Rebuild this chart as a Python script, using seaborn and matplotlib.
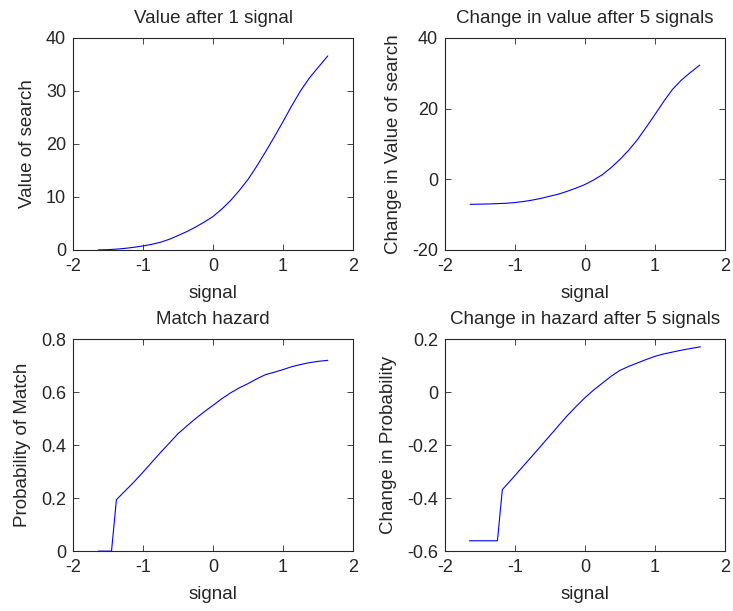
import numpy as np
import pandas as pd
import matplotlib
matplotlib.use("Agg")
import matplotlib.pyplot as plt
import seaborn as sns

# signal grid and curves
sig_value = [-1.64, -1.5, -1.375, -1.25, -1.125, -1.0, -0.875, -0.75, -0.625, -0.5, -0.375, -0.25, -0.125,
             0.0, 0.125, 0.25, 0.375, 0.5, 0.625, 0.75, 0.875, 1.0, 1.125, 1.25, 1.375, 1.5, 1.64]
value_1 = [0.0, 0.05, 0.15, 0.3, 0.5, 0.75, 1.05, 1.45, 2.0, 2.7, 3.45, 4.3, 5.25,
           6.3, 7.7, 9.3, 11.2, 13.3, 15.8, 18.5, 21.3, 24.2, 27.2, 30.0, 32.4, 34.4, 36.6]
change_value_5 = [-7.1, -7.05, -7.0, -6.9, -6.8, -6.6, -6.3, -5.9, -5.4, -4.8, -4.2, -3.4, -2.5,
                  -1.5, -0.2, 1.3, 3.3, 5.6, 8.2, 11.2, 14.7, 18.3, 22.0, 25.4, 28.0, 30.1, 32.3]

sig_hazard = [-1.64, -1.45, -1.38, -1.125, -1.0, -0.75, -0.5, -0.375, -0.25, -0.125, 0.0, 0.125, 0.25,
              0.375, 0.5, 0.625, 0.75, 0.875, 1.0, 1.125, 1.25, 1.375, 1.5, 1.64]
match_hazard = [0.0, 0.0, 0.194, 0.262, 0.298, 0.372, 0.443, 0.472, 0.50, 0.526, 0.55, 0.575, 0.597,
                0.616, 0.632, 0.65, 0.666, 0.675, 0.685, 0.696, 0.704, 0.711, 0.716, 0.72]

sig_change = [-1.65, -1.25, -1.18, -1.0, -0.875, -0.75, -0.625, -0.5, -0.375, -0.25, -0.125, 0.0, 0.125,
              0.25, 0.375, 0.5, 0.625, 0.75, 0.875, 1.0, 1.125, 1.25, 1.375, 1.5, 1.65]
change_hazard_5 = [-0.561, -0.561, -0.368, -0.315, -0.277, -0.24, -0.202, -0.164, -0.126, -0.088, -0.054,
                   -0.021, 0.008, 0.034, 0.06, 0.082, 0.097, 0.11, 0.123, 0.135, 0.144, 0.151, 0.158,
                   0.164, 0.171]

sns.set_style("ticks")
plt.rcParams['font.family'] = ['Liberation Sans', 'DejaVu Sans']

fig = plt.figure(figsize=(7.33, 6.11), dpi=100)
left = [0.0996, 0.607]
bottom = [0.591, 0.098]
w, h = 0.382, 0.347

panels = [
    (sig_value, value_1, "Value after 1 signal", "Value of search", (0, 40), [0, 10, 20, 30, 40], left[0], bottom[0]),
    (sig_value, change_value_5, "Change in value after 5 signals", "Change in Value of search", (-20, 40), [-20, 0, 20, 40], left[1], bottom[0]),
    (sig_hazard, match_hazard, "Match hazard", "Probability of Match", (0, 0.8), [0, 0.2, 0.4, 0.6, 0.8], left[0], bottom[1]),
    (sig_change, change_hazard_5, "Change in hazard after 5 signals", "Change in Probability", (-0.6, 0.2), [-0.6, -0.4, -0.2, 0, 0.2], left[1], bottom[1]),
]

for xs, ys, title, ylabel, ylim, yticks, l, b in panels:
    ax = fig.add_axes([l, b, w, h])
    df = pd.DataFrame({"signal": xs, "y": ys})
    sns.lineplot(data=df, x="signal", y="y", ax=ax, color="#0000ff", linewidth=0.8)
    ax.set_xlim(-2, 2)
    ax.set_ylim(*ylim)
    ax.set_xticks([-2, -1, 0, 1, 2])
    ax.set_xticklabels(["-2", "-1", "0", "1", "2"])
    ax.set_yticks(yticks)
    ax.set_yticklabels([f"{t:g}" for t in yticks])
    ax.tick_params(axis="both", direction="in", top=True, right=True, length=4, width=0.6, labelsize=13)
    ax.tick_params(axis="x", pad=6)
    ax.tick_params(axis="y", pad=5)
    for s in ax.spines.values():
        s.set_linewidth(0.8)
    ax.set_title(title, fontsize=13.5, pad=11)
    ax.set_xlabel("signal", fontsize=13.5, labelpad=7)
    ax.set_ylabel(ylabel, fontsize=13.5, labelpad=7)

fig.savefig("out.png", dpi=100)
